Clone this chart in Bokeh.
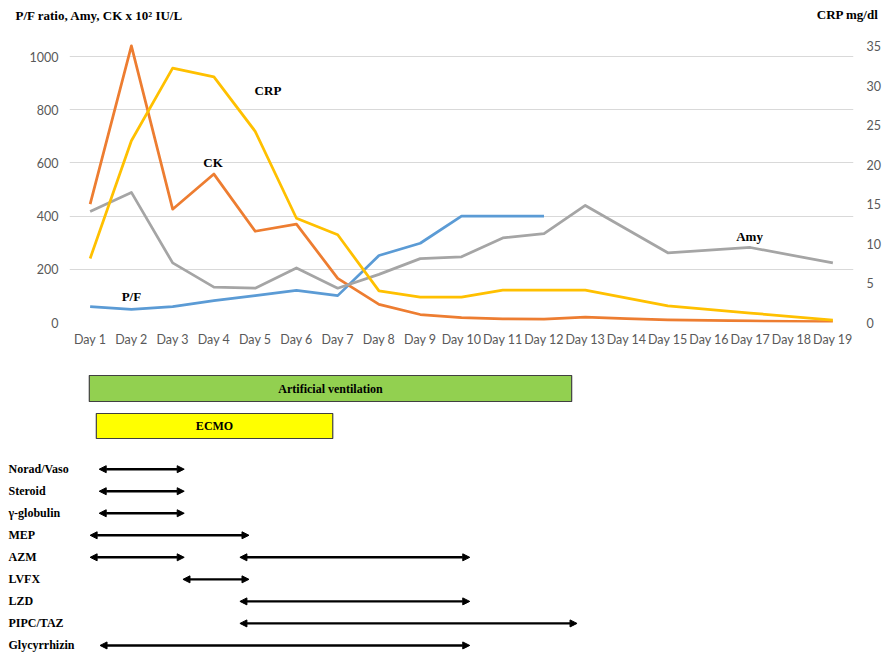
from bokeh.plotting import figure
from bokeh.models import Range1d, LinearAxis, FixedTicker, Label, Arrow, NormalHead, ColumnDataSource
from bokeh.layouts import column
from bokeh.embed import file_html
from bokeh.resources import INLINE
from bokeh.core.properties import value

# ---------------- data ----------------
days = list(range(1, 20))
day_labels = [f"Day {d}" for d in days]

pf_days = [1, 2, 3, 4, 5, 6, 7, 8, 9, 10, 11, 12]
pf_vals = [60, 49, 60, 82, 101, 121, 101, 252, 298, 400, 400, 400]

ck_days = list(range(1, 20))
ck_vals = [445, 1040, 426, 558, 343, 370, 166, 68, 30, 18, 14, 13, 20, 15, 10, 8, 6, 4, 3]

amy_days = [1, 2, 3, 4, 5, 6, 7, 8, 9, 10, 11, 12, 13, 15, 17, 19]
amy_vals = [417, 489, 224, 133, 129, 205, 129, 181, 240, 247, 318, 334, 440, 262, 282, 224]

crp_days = [1, 2, 3, 4, 5, 6, 7, 8, 9, 10, 11, 12, 13, 15, 17, 19]
crp_vals = [8.1, 23, 32.2, 31.1, 24.2, 13.2, 11.1, 4.0, 3.2, 3.2, 4.1, 4.1, 4.1, 2.1, 1.2, 0.3]

left_ticks = [0, 200, 400, 600, 800, 1000]
right_ticks = [0, 5, 10, 15, 20, 25, 30, 35]

left_title = "P/F ratio, Amy, CK x 10\u00b2 IU/L"
right_title = "CRP mg/dl"

support_names = ["Artificial ventilation", "ECMO"]
support_start = [0.98, 1.15]
support_end = [12.67, 6.88]

drug_names = ["Norad/Vaso", "Steroid", "\u03b3-globulin", "MEP", "AZM", "LVFX", "LZD", "PIPC/TAZ", "Glycyrrhizin"]
# one entry per course: (drug row index, start day, end day)
course_drug = [0, 1, 2, 3, 4, 4, 5, 6, 7, 8]
course_start = [1.22, 1.22, 1.22, 1.0, 1.0, 4.63, 3.25, 4.63, 4.63, 1.24]
course_end = [3.28, 3.28, 3.28, 4.85, 3.28, 10.2, 4.85, 10.2, 12.8, 10.2]

# ---------------- layout constants ----------------
W = 890
H0 = 30            # header strip
H1 = 325           # chart
H2 = 654 - H0 - H1 # timeline
BL, BR, BT, BB = 69, 37, 6, 33
frame_w = W - BL - BR
frame_h = H1 - BT - BB
px_day = frame_w / 19.0
left_px = 0.266
right_px = 7.9
ymax_left = frame_h / left_px
ymax_right = frame_h / right_px

GRAY = "#595959"
SERIF = value("Liberation Serif")

# ---------------- header ----------------
h = figure(width=W, height=H0, x_range=Range1d(0, W), y_range=Range1d(H0, 0),
           output_backend="svg", toolbar_location=None, x_axis_type=None, y_axis_type=None,
           min_border=0, min_border_left=0, min_border_right=0, min_border_top=0, min_border_bottom=0,
           frame_align=False)
h.outline_line_color = None
h.xgrid.visible = False
h.ygrid.visible = False
h.text(x=[15], y=[15], text=[left_title], text_align="left", text_baseline="middle",
       text_font=SERIF, text_font_style="bold", text_font_size="13px", text_color="black")
h.text(x=[878], y=[14], text=[right_title], text_align="right", text_baseline="middle",
       text_font=SERIF, text_font_style="bold", text_font_size="13px", text_color="black")

# ---------------- chart ----------------
p = figure(width=W, height=H1, x_range=Range1d(0.5, 19.5), y_range=Range1d(0, ymax_left),
           output_backend="svg", toolbar_location=None, frame_align=False,
           min_border_left=BL, min_border_right=BR, min_border_top=BT, min_border_bottom=BB)
p.outline_line_color = None
p.extra_y_ranges = {"crp": Range1d(0, ymax_right)}

lw = 2.75
p.line(pf_days, pf_vals, line_color="#5B9BD5", line_width=lw, line_join="round")
p.line(ck_days, ck_vals, line_color="#ED7D31", line_width=lw, line_join="round")
p.line(amy_days, amy_vals, line_color="#A5A5A5", line_width=lw, line_join="round")
p.line(crp_days, crp_vals, line_color="#FFC000", line_width=lw, line_join="round", y_range_name="crp")

p.xaxis.ticker = FixedTicker(ticks=days)
p.xaxis.major_label_overrides = {d: lab for d, lab in zip(days, day_labels)}
p.xaxis.major_label_standoff = 9
p.yaxis.ticker = FixedTicker(ticks=left_ticks)
p.yaxis.major_label_standoff = 11

raxis = LinearAxis(y_range_name="crp", ticker=FixedTicker(ticks=right_ticks), major_label_standoff=13)
p.add_layout(raxis, "right")

for ax in p.axis:
    ax.axis_line_color = None
    ax.major_tick_line_color = None
    ax.minor_tick_line_color = None
    ax.major_tick_out = 0
    ax.major_label_text_color = GRAY
    ax.major_label_text_font = "Lato"
    ax.major_label_text_font_size = "12.5px"

p.xgrid.visible = False
p.ygrid.grid_line_color = "#D9D9D9"
p.ygrid.grid_line_width = 1

def lab(x, y, text):
    p.add_layout(Label(x=x, y=y, text=text, text_align="center", text_baseline="middle",
                       text_font="Liberation Serif", text_font_style="bold",
                       text_font_size="13px", text_color="black"))

lab(5.31, 872, "CRP")
lab(3.98, 601, "CK")
lab(2.0, 98, "P/F")
lab(16.98, 323, "Amy")

# ---------------- timeline ----------------
x0 = 0.5 - BL / px_day
x1 = x0 + W / px_day
row_px = 22.03
row0_px = 468.7 - H0 - H1     # first drug row, from top of timeline strip
y_bottom = (H2 - row0_px) / row_px
y_top = -row0_px / row_px

q = figure(width=W, height=H2, x_range=Range1d(x0, x1), y_range=Range1d(y_bottom, y_top),
           output_backend="svg", toolbar_location=None, x_axis_type=None, y_axis_type=None,
           min_border=0, min_border_left=0, min_border_right=0, min_border_top=0, min_border_bottom=0,
           frame_align=False)
q.outline_line_color = None
q.xgrid.visible = False
q.ygrid.visible = False

support_rows = [(388 - H0 - H1 - row0_px) / row_px, (425.5 - H0 - H1 - row0_px) / row_px]
support_h = [26 / row_px, 25 / row_px]
support_fill = ["#92D050", "#FFFF00"]
src_s = ColumnDataSource(dict(y=support_rows, left=support_start, right=support_end, h=support_h,
                              fill=support_fill, name=support_names,
                              mid=[(a + b) / 2 for a, b in zip(support_start, support_end)]))
q.hbar(y="y", left="left", right="right", height="h", fill_color="fill", line_color="#404040",
       line_width=1.2, source=src_s)
q.text(x="mid", y="y", text="name", source=src_s, text_align="center", text_baseline="middle",
       text_font=SERIF, text_font_style="bold", text_font_size="12px", text_color="black")

q.text(x=[x0 + 8 / px_day] * len(drug_names), y=list(range(len(drug_names))), text=drug_names,
       text_align="left", text_baseline="middle", text_font=SERIF, text_font_style="bold",
       text_font_size="12px", text_color="black")

src_a = ColumnDataSource(dict(xs=course_start, xe=course_end, y=course_drug))
q.add_layout(Arrow(start=NormalHead(size=7, fill_color="black", line_color="black"),
                   end=NormalHead(size=7, fill_color="black", line_color="black"),
                   x_start="xs", y_start="y", x_end="xe", y_end="y", source=src_a,
                   line_color="black", line_width=2.4))

layout = column(h, p, q, spacing=0)
open("out.html", "w").write(file_html(layout, INLINE))
